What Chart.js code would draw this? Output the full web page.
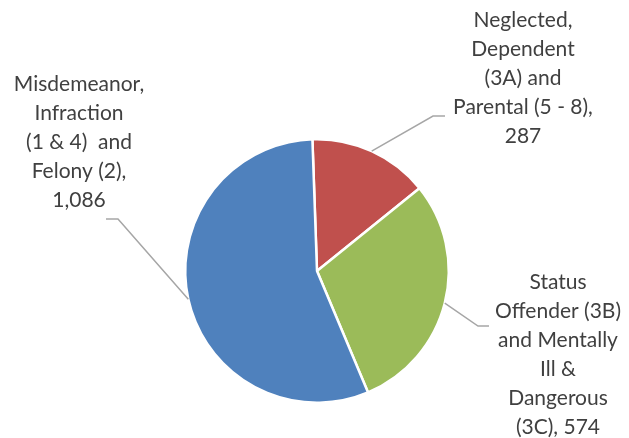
<!DOCTYPE html>
<html>
<head>
<meta charset="utf-8">
<script src="https://cdn.jsdelivr.net/npm/chart.js"></script>
<style>
  html, body { margin: 0; padding: 0; background: #fff; }
  #wrap { width: 629px; height: 438px; position: relative; }
</style>
</head>
<body>
<div id="wrap"><canvas id="pieChart" width="629" height="438"></canvas></div>
<script>
// Chart data
const categories = [
    ['Neglected,', 'Dependent', '(3A) and', 'Parental (5 - 8),'],
    ['Status', 'Offender (3B)', 'and Mentally', 'Ill &', 'Dangerous', '(3C),'],
    ['Misdemeanor,', 'Infraction', '(1 & 4)  and', 'Felony (2),']
];
const counts = [287, 574, 1086];
const sliceColors = ['#C0504D', '#9BBB59', '#4F81BD'];

// where each label block sits (center x, first line y) and where its leader meets it
const labelLayout = [
    { x: 523, y: 20, endX: 445, elbowX: 433, lineY: 116 },
    { x: 558, y: 282, endX: 489, elbowX: 478, lineY: 326 },
    { x: 79, y: 84, endX: 106, elbowX: 118, lineY: 219 }
];

const fmt = n => n.toLocaleString('en-US');

// draws the data labels with leader lines
const calloutLabels = {
    id: 'calloutLabels',
    afterDatasetsDraw(chart) {
        const ctx = chart.ctx;
        const arcs = chart.getDatasetMeta(0).data;
        ctx.save();
        arcs.forEach((arc, i) => {
            const p = arc.getProps(['x', 'y', 'startAngle', 'endAngle', 'outerRadius'], true);
            const mid = (p.startAngle + p.endAngle) / 2;
            const ax = p.x + Math.cos(mid) * p.outerRadius;
            const ay = p.y + Math.sin(mid) * p.outerRadius;
            const lay = labelLayout[i];

            ctx.strokeStyle = '#A6A6A6';
            ctx.lineWidth = 1.5;
            ctx.beginPath();
            ctx.moveTo(ax, ay);
            ctx.lineTo(lay.elbowX, lay.lineY);
            ctx.lineTo(lay.endX, lay.lineY);
            ctx.stroke();

            const lines = categories[i].slice();
            const last = lines.length - 1;
            if (i === 1) lines[last] = lines[last] + ' ' + fmt(counts[i]);
            else lines.push(fmt(counts[i]));

            ctx.fillStyle = '#404040';
            ctx.font = '21px Lato, "Liberation Sans", sans-serif';
            ctx.textAlign = 'center';
            ctx.textBaseline = 'middle';
            lines.forEach((t, k) => ctx.fillText(t, lay.x, lay.y + k * 29));
        });
        ctx.restore();
    }
};

new Chart(document.getElementById('pieChart'), {
    type: 'pie',
    data: {
        labels: categories.map(c => c.join(' ')),
        datasets: [{
            data: counts,
            backgroundColor: sliceColors,
            borderColor: '#FFFFFF',
            borderWidth: 2.5
        }]
    },
    options: {
        responsive: false,
        animation: false,
        rotation: -2,
        layout: { padding: { top: 138, bottom: 34, left: 184, right: 179 } },
        plugins: {
            legend: { display: false },
            tooltip: { enabled: false }
        }
    },
    plugins: [calloutLabels]
});
</script>
</body>
</html>
